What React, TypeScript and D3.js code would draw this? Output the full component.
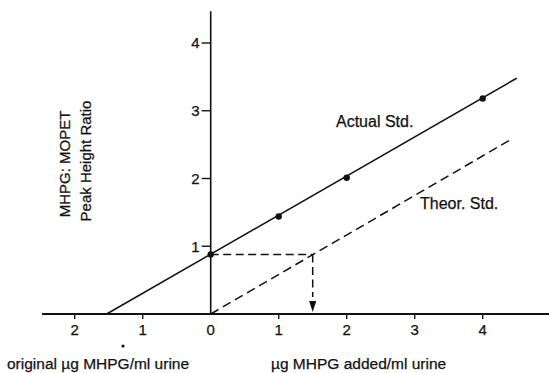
import React from "react";
import * as d3 from "d3";

// ---- data ----
const xTicks = [-2, -1, 0, 1, 2, 3, 4];
const yTicks = [1, 2, 3, 4];
const actualX = [0, 1, 2, 4];
const actualY = [0.88, 1.44, 2.01, 3.18];
const actualLineX = [-1.53, 4.5];
const actualLineY = [0, 3.48];
const theorLineX = [0, 4.44];
const theorLineY = [0, 2.59];
const readX = 1.5;
const readY = 0.88;
const xAxisExtent = [-2.48, 4.98];
const yAxisTop = 4.47;
const labels = {
  actual: "Actual Std.",
  theor: "Theor. Std.",
  yLine1: "MHPG: MOPET",
  yLine2: "Peak Height Ratio",
  xLeft: "original \u00b5g MHPG/ml urine",
  xRight: "\u00b5g MHPG added/ml urine",
};

const W = 549;
const H = 373;
const FONT = "'Liberation Sans', Arial, Helvetica, sans-serif";
const INK = "#111";

export default function App() {
  const x = d3.scaleLinear().domain([-2, 4]).range([74.7, 482.7]);
  const y = d3.scaleLinear().domain([0, 4]).range([314, 43]);
  const line = d3
    .line<[number, number]>()
    .x((d) => x(d[0]))
    .y((d) => y(d[1]));

  const actualPts = actualLineX.map((v, i) => [v, actualLineY[i]] as [number, number]);
  const theorPts = theorLineX.map((v, i) => [v, theorLineY[i]] as [number, number]);
  const readH: [number, number][] = [
    [0, readY],
    [readX, readY],
  ];
  const readV: [number, number][] = [
    [readX, readY],
    [readX, 0.25],
  ];
  const ax = x(readX);
  const tipY = y(0) - 2;
  const textStyle = { stroke: INK, strokeWidth: 0.25 };

  return (
    <svg
      width={W}
      height={H}
      style={{ position: "absolute", left: 0, top: 0, background: "#fff" }}
      fontFamily={FONT}
    >
      <rect width={W} height={H} fill="#fff" />
      {/* x axis baseline */}
      <line
        x1={x(xAxisExtent[0])}
        x2={x(xAxisExtent[1])}
        y1={y(0)}
        y2={y(0)}
        stroke={INK}
        strokeWidth={2}
      />
      {/* y axis */}
      <line x1={x(0)} x2={x(0)} y1={y(0)} y2={y(yAxisTop)} stroke={INK} strokeWidth={1.6} />
      {/* x ticks */}
      {xTicks.map((t) => (
        <g key={"xt" + t}>
          {t !== 0 && (
            <line x1={x(t)} x2={x(t)} y1={y(0)} y2={y(0) + 5} stroke={INK} strokeWidth={1.4} />
          )}
          <text x={x(t)} y={335} textAnchor="middle" fontSize={15} fill={INK} style={textStyle}>
            {Math.abs(t)}
          </text>
        </g>
      ))}
      {/* y ticks */}
      {yTicks.map((t) => (
        <g key={"yt" + t}>
          <line x1={x(0) - 9} x2={x(0)} y1={y(t)} y2={y(t)} stroke={INK} strokeWidth={1.4} />
          <text
            x={x(0) - 11}
            y={y(t)}
            dy="0.36em"
            textAnchor="end"
            fontSize={15}
            fill={INK}
            style={textStyle}
          >
            {t}
          </text>
        </g>
      ))}
      {/* actual std line */}
      <path d={line(actualPts) || ""} fill="none" stroke={INK} strokeWidth={1.5} />
      {/* theoretical std line */}
      <path
        d={line(theorPts) || ""}
        fill="none"
        stroke={INK}
        strokeWidth={1.5}
        strokeDasharray="9,5"
      />
      {/* reading lines */}
      <path d={line(readH) || ""} fill="none" stroke={INK} strokeWidth={1.5} strokeDasharray="8,4.5" />
      <path d={line(readV) || ""} fill="none" stroke={INK} strokeWidth={1.5} strokeDasharray="8,4.5" />
      <path d={`M${ax - 3.6},${tipY - 11}L${ax + 3.6},${tipY - 11}L${ax},${tipY}Z`} fill={INK} />
      {/* points */}
      {actualX.map((v, i) => (
        <circle key={"p" + i} cx={x(v)} cy={y(actualY[i])} r={3.2} fill={INK} />
      ))}
      {/* line labels */}
      <text x={336} y={127} fontSize={16} fill={INK} style={textStyle}>
        {labels.actual}
      </text>
      <text x={420} y={209} fontSize={16} fill={INK} style={textStyle}>
        {labels.theor}
      </text>
      {/* y axis title */}
      <text
        transform="translate(70,164) rotate(-90)"
        textAnchor="middle"
        fontSize={15}
        fill={INK}
        style={textStyle}
      >
        {labels.yLine1}
      </text>
      <text
        transform="translate(91,161) rotate(-90)"
        textAnchor="middle"
        fontSize={15}
        fill={INK}
        style={textStyle}
      >
        {labels.yLine2}
      </text>
      {/* x axis titles */}
      <circle cx={123} cy={346} r={1.6} fill={INK} />
      <text x={7} y={369} fontSize={15.5} fill={INK} style={textStyle}>
        {labels.xLeft}
      </text>
      <text x={271} y={369} fontSize={15.5} fill={INK} style={textStyle}>
        {labels.xRight}
      </text>
    </svg>
  );
}
